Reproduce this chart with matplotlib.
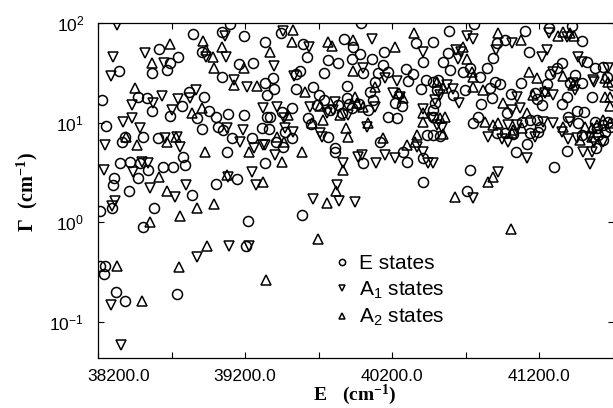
import matplotlib
matplotlib.use('Agg')
import matplotlib.pyplot as plt
import matplotlib.transforms as mtransforms
from matplotlib.ticker import FixedLocator, LogLocator, NullLocator

# (E in cm^-1, Gamma in cm^-1)
e_states = [
    (39100, 97.7), (38845, 77.6), (39045, 81.2), (39195, 74.1), (39335, 64.5), (38615, 54.8), (38905, 51.1), (38745, 45.6),
    (38690, 39.7), (38565, 31.5), (38670, 33.7), (39045, 28.7), (39160, 38.8), (39255, 39.7), (38345, 33.0), (39335, 25.0),
    (39350, 18.9), (38470, 18.1), (38535, 17.6), (38225, 16.8), (38820, 20.3), (38920, 18.1), (38770, 14.7), (38565, 13.1),
    (38690, 11.6), (38875, 11.1), (38955, 13.1), (39005, 11.4), (39085, 12.2), (39195, 11.9), (39350, 11.4), (38255, 9.3),
    (38905, 8.7), (39015, 9.1), (39050, 8.5), (39315, 8.9), (38505, 7.2), (38610, 7.0), (39110, 7.0), (39250, 7.0),
    (38365, 6.4), (38385, 7.2), (38780, 4.5), (39075, 5.1), (39335, 3.95), (38350, 3.95), (38420, 4.0), (38485, 3.95),
    (38540, 3.35), (38640, 3.6), (38710, 3.6), (38790, 3.7), (38310, 2.8), (38300, 2.38), (38470, 2.8), (38410, 2.03),
    (38840, 1.85), (39005, 2.43), (39145, 2.7), (38295, 1.38), (38215, 1.29), (38580, 1.38), (39220, 1.03), (38505, 0.9),
    (39205, 0.57), (38215, 0.36), (38250, 0.36), (38240, 0.30), (38320, 0.2), (38385, 0.16), (38735, 0.19),
    (39990, 99.0), (39445, 79.4), (39595, 61.6), (39620, 45.6), (39875, 69.1), (39935, 57.4), (40145, 51.1), (39980, 48.8),
    (39930, 43.5), (40065, 43.5), (39765, 42.5), (39835, 39.7), (40140, 37.9), (40365, 63.0), (40480, 64.5), (40410, 40.6),
    (40005, 31.5), (39735, 31.5), (40105, 31.5), (40175, 32.2), (40295, 34.5), (40345, 30.8), (39545, 30.8), (39575, 33.0),
    (39390, 28.0), (39395, 21.7), (39545, 21.7), (39665, 22.8), (39705, 18.9), (39735, 16.8), (39690, 15.0), (39895, 23.3),
    (40085, 25.6), (40050, 20.3), (40310, 26.2), (40430, 26.8), (40395, 21.7), (39895, 17.6), (39910, 15.4), (40070, 16.8),
    (40220, 15.7), (40270, 14.7), (40035, 13.4), (39975, 15.4), (39780, 13.4), (39835, 15.0), (39450, 12.8), (39520, 14.0),
    (39370, 11.4), (39860, 12.5), (39930, 14.0), (40175, 11.4), (40235, 11.1), (40480, 13.4), (40495, 15.7), (39630, 11.1),
    (39650, 9.7), (40480, 11.4), (39365, 8.7), (39520, 7.0), (39765, 7.2), (40440, 7.55), (40480, 7.55), (40525, 7.4),
    (39410, 6.3), (39460, 5.7), (39470, 8.1), (39810, 5.6), (39810, 5.0), (40005, 3.95), (40120, 6.3), (40275, 5.0),
    (40300, 4.0), (40410, 4.4), (40410, 2.5), (39590, 1.18),
    (40590, 83.1), (40760, 97.7), (41105, 83.1), (40915, 63.0), (40970, 67.5), (41130, 51.1), (40885, 44.5), (41270, 89.1),
    (41425, 93.3), (41495, 66.0), (40580, 50.0), (40545, 40.6), (40595, 33.7), (40685, 32.2), (40730, 35.3), (40845, 35.3),
    (40800, 28.7), (40900, 25.6), (40935, 24.4), (41525, 40.6), (41355, 39.7), (41325, 35.3), (41275, 30.8), (41255, 24.4),
    (41445, 30.1), (41580, 35.3), (41635, 36.2), (41665, 28.7), (40480, 25.6), (40515, 26.8), (40505, 21.2), (40615, 18.9),
    (40695, 21.2), (40865, 22.2), (40880, 17.6), (40805, 15.4), (41010, 19.4), (41080, 25.0), (40980, 12.5), (41175, 19.8),
    (41185, 17.2), (41220, 15.0), (41140, 10.6), (41185, 10.6), (41355, 15.4), (41390, 18.1), (41460, 13.1), (41505, 12.8),
    (41560, 18.1), (41395, 11.4), (41465, 9.95), (40750, 9.95), (40785, 11.4), (41085, 10.2), (41205, 9.1), (41195, 8.1),
    (41580, 10.2), (41635, 9.5), (41595, 8.9), (41495, 7.55), (40915, 7.9), (40970, 7.9), (41025, 7.7), (41140, 7.9),
    (41120, 6.1), (41045, 5.0), (41390, 5.2), (41600, 7.55), (41635, 6.7), (41590, 5.6), (41300, 3.6), (40730, 3.3),
    (40710, 2.07), (41410, 25.0), (41495, 25.0), (41695, 23.8), (41670, 10.2), (41685, 9.1), (41650, 8.1),
]

a1_states = [
    (38330, 95.5), (39065, 74.1), (38520, 50.0), (38300, 45.6), (38935, 45.6), (39070, 45.6), (38650, 39.7), (38290, 29.4),
    (39125, 26.8), (39215, 22.8), (38635, 18.5), (38865, 21.2), (38825, 17.6), (38745, 17.2), (38575, 15.7), (38430, 15.0),
    (38705, 13.4), (39320, 14.0), (38370, 10.2), (38430, 11.1), (38485, 8.9), (39075, 8.9), (39185, 8.5), (38655, 7.0),
    (38250, 6.0), (38735, 7.2), (38760, 5.7), (39165, 6.4), (39260, 5.6), (39320, 6.0), (38500, 4.0), (38540, 3.95),
    (38240, 3.35), (38440, 3.15), (38555, 2.22), (38800, 2.38), (38725, 1.77), (39085, 2.85), (39250, 3.15), (39275, 2.38),
    (38315, 1.62), (38295, 1.44), (38875, 0.45), (39090, 0.57), (39225, 0.58), (38290, 0.146), (38355, 0.058),
    (39460, 83.1), (39635, 57.4), (40065, 69.1), (39395, 37.0), (40410, 51.1), (40005, 35.3), (40150, 28.0), (39535, 29.4),
    (40235, 26.2), (40205, 19.8), (40255, 18.1), (40495, 16.8), (40085, 14.3), (39810, 16.1), (39640, 14.3), (39420, 14.3),
    (39760, 12.5), (39800, 13.4), (39900, 11.9), (40410, 13.7), (40470, 11.1), (39465, 11.1), (39470, 8.9), (39525, 8.1),
    (40030, 9.1), (39710, 7.9), (39725, 7.2), (39335, 6.0), (39405, 4.75), (39970, 4.5), (39995, 4.75), (40090, 3.95),
    (40150, 4.75), (40220, 4.4), (40370, 5.7), (40410, 5.0), (40445, 3.95), (40480, 3.95), (39865, 3.95), (39825, 2.38),
    (39665, 1.69), (39840, 1.62), (39950, 1.58),
    (40855, 7.2), (40950, 6.9), (40990, 6.4), (41175, 7.2), (41120, 4.4), (41395, 6.9), (41500, 5.1), (41560, 5.1),
    (41575, 6.3), (41635, 6.3), (41545, 3.85), (40920, 3.2), (40750, 1.73), (40710, 74.1), (40750, 69.1), (41015, 63.0),
    (40905, 53.6), (41270, 79.4), (41390, 72.4), (41255, 53.6), (41220, 45.6), (40635, 53.6), (40670, 51.1), (40650, 43.5),
    (41465, 45.6), (41495, 40.6), (41295, 32.2), (41445, 21.2), (41575, 25.6), (40575, 23.8), (40615, 21.7), (40525, 18.9),
    (40655, 15.7), (41050, 18.1), (41015, 13.4), (41070, 14.0), (41240, 19.8), (41295, 18.9), (41410, 10.2), (40990, 9.5),
    (41050, 9.5), (41225, 10.2), (41295, 9.95), (41355, 8.1), (41460, 7.0), (40540, 8.9), (40505, 9.5), (41670, 35.3),
    (41430, 25.0), (41565, 26.8), (41545, 7.2),
]

a2_states = [
    (38915, 66.0), (38690, 61.6), (38935, 53.6), (38980, 45.6), (39045, 57.4), (38565, 39.7), (38990, 35.3), (39195, 35.3),
    (39125, 23.8), (39280, 23.3), (38450, 22.2), (38840, 12.5), (38905, 14.0), (38390, 7.2), (38730, 7.2), (38465, 6.0),
    (38670, 6.3), (38930, 5.0), (39225, 5.1), (38615, 2.85), (38670, 2.03), (39075, 3.0), (39320, 2.55), (38875, 1.38),
    (38990, 1.51), (38760, 1.15), (38555, 0.99), (38940, 0.57), (38330, 0.36), (38750, 0.35), (38500, 0.16), (39345, 0.26),
    (39525, 85.1), (39370, 51.1), (39520, 64.5), (39765, 64.5), (39790, 58.8), (39935, 67.5), (40220, 57.4), (40350, 79.4),
    (39935, 33.0), (39610, 20.3), (40085, 22.8), (40250, 19.8), (40275, 17.6), (40505, 25.6), (39950, 18.1), (40005, 14.3),
    (39960, 15.7), (39710, 14.7), (39495, 11.9), (39845, 11.9), (40410, 12.5), (39655, 9.95), (39730, 10.6), (40035, 9.95),
    (39885, 8.9), (40410, 10.2), (39420, 7.2), (39900, 7.2), (40140, 7.0), (40370, 7.55), (39465, 6.3), (39450, 4.0),
    (39590, 5.1), (40300, 6.0), (40355, 6.4), (39865, 3.35), (39820, 2.03), (39760, 1.55), (39695, 0.67),
    (40545, 7.7), (41015, 7.9), (41480, 6.7), (41560, 7.2), (40855, 2.5), (40885, 2.85), (40630, 1.77), (41010, 0.86),
    (40920, 79.4), (41080, 67.5), (41365, 81.2), (41330, 74.1), (41440, 74.1), (40685, 57.4), (40710, 43.5), (40745, 32.2),
    (40750, 28.7), (41130, 32.2), (41185, 28.0), (41365, 29.4), (41430, 23.8), (40545, 22.2), (40750, 22.8), (40820, 21.2),
    (40955, 15.7), (41160, 18.9), (41240, 20.7), (41120, 12.5), (41650, 18.1), (41515, 9.1), (41635, 10.6), (41685, 9.95),
    (40835, 10.2), (40885, 9.5), (40920, 9.95), (41025, 8.5), (41085, 8.9), (41365, 9.1), (40560, 11.4), (40525, 11.1),
    (41650, 28.0), (41670, 25.6), (41685, 18.1), (41685, 14.7), (41560, 8.9), (41595, 9.5), (41410, 79.4),
]

x_ticks = [38200, 39200, 40200, 41200]
x_tick_labels = ['38200.0', '39200.0', '40200.0', '41200.0']
x_minor = [38700, 39700, 40700, 41700]

plt.rcParams['font.family'] = 'Liberation Sans'
plt.rcParams['mathtext.fontset'] = 'custom'
plt.rcParams['mathtext.rm'] = 'Liberation Sans'
plt.rcParams['mathtext.it'] = 'Liberation Sans:italic'
plt.rcParams['mathtext.bf'] = 'Liberation Serif:bold'

fig = plt.figure(figsize=(6.13, 4.08), dpi=100)
ax = fig.add_axes([98/613, 50/408, 516/613, 335/408])

series = [(e_states, 'o', 'E states'),
          (a1_states, 'v', 'A$_1$ states'),
          (a2_states, '^', 'A$_2$ states')]
for pts, mk, lab in series:
    xs = [p[0] for p in pts]
    ys = [p[1] for p in pts]
    ax.plot(xs, ys, linestyle='none', marker=mk, ms=7.2, mfc='none',
            mec='black', mew=1.1, label=lab)

ax.set_yscale('log')
ax.set_xlim(38200, 41710)
ax.set_ylim(0.043, 100)

ax.xaxis.set_major_locator(FixedLocator(x_ticks))
ax.xaxis.set_minor_locator(FixedLocator(x_minor))
ax.set_xticklabels(x_tick_labels)
ax.yaxis.set_major_locator(LogLocator(base=10))
ax.yaxis.set_minor_locator(NullLocator())

ax.tick_params(which='both', direction='in', top=True, right=True,
               length=4, width=0.8, labelsize=12.5)
ax.tick_params(axis='y', pad=10)
ax.tick_params(axis='x', pad=8)
for sp in ax.spines.values():
    sp.set_linewidth(0.9)

# first x label sits shifted to the right in the original
lbl = ax.xaxis.get_major_ticks()[0].label1
lbl.set_transform(lbl.get_transform() + mtransforms.ScaledTranslation(0.21, 0, fig.dpi_scale_trans))

fig.text(355/613, 1 - 395/408, r'$\mathbf{E\ \ \ (cm^{-1})}$', ha='center', va='center', fontsize=14)
fig.text(27/613, 1 - 192/408, r'$\mathbf{\Gamma\ \ (cm^{-1})}$', ha='center', va='center',
         fontsize=14.5, rotation=90)

ax.legend(loc='upper left', bbox_to_anchor=(0.453, 0.31), frameon=False, fontsize=15,
          markerscale=0.62, handlelength=1.0, handletextpad=0.3, labelspacing=0.3,
          borderpad=0, borderaxespad=0)

fig.savefig('out.png', dpi=100)
